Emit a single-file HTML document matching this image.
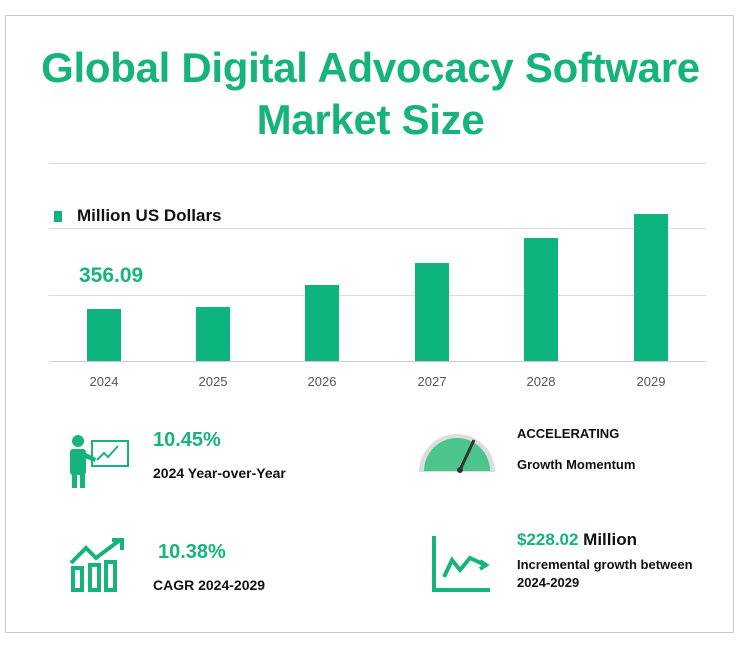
<!DOCTYPE html>
<html><head><meta charset="utf-8"><style>
body{margin:0;width:741px;height:652px;background:#fff;font-family:"Liberation Sans",sans-serif;position:relative;overflow:hidden}
.box{position:absolute;left:5px;top:15px;width:727px;height:616px;border:1px solid #c8c8c8;background:#fff}
.t{position:absolute;white-space:nowrap}
.g{color:#16b47c;font-weight:bold}
.k{color:#111;font-weight:bold}
.bar{position:absolute;width:34px;background:#0db47e}
.hl{position:absolute;left:49px;width:657px;height:1px;background:#ddd}
.yr{position:absolute;top:374px;font-size:13px;color:#555;width:60px;text-align:center}
</style></head><body>
<div class="box"></div>
<div class="t g" style="left:0;width:741px;text-align:center;top:42px;font-size:42px;line-height:52px;letter-spacing:-0.3px">Global Digital Advocacy Software<br>Market Size</div>
<div class="hl" style="top:163px"></div>
<div class="hl" style="top:228px"></div>
<div class="hl" style="top:295px"></div>
<div class="hl" style="top:361px;background:#ccc"></div>
<div style="position:absolute;left:54px;top:211px;width:8px;height:11px;background:#0db47e"></div>
<div class="t k" style="left:77px;top:206px;font-size:17px">Million US Dollars</div>
<div class="t g" style="left:79px;top:264px;font-size:21px">356.09</div>
<div class="bar" style="left:87px;top:309px;height:52px"></div>
<div class="bar" style="left:196px;top:307px;height:54px"></div>
<div class="bar" style="left:305px;top:285px;height:76px"></div>
<div class="bar" style="left:415px;top:263px;height:98px"></div>
<div class="bar" style="left:524px;top:238px;height:123px"></div>
<div class="bar" style="left:634px;top:214px;height:147px"></div>
<div class="yr" style="left:74px">2024</div><div class="yr" style="left:183px">2025</div><div class="yr" style="left:292px">2026</div><div class="yr" style="left:402px">2027</div><div class="yr" style="left:511px">2028</div><div class="yr" style="left:621px">2029</div>
<svg style="position:absolute;left:0;top:0" width="741" height="652">
<g fill="#16b47c"><circle cx="78" cy="441" r="6"/><rect x="70" y="449" width="16" height="26" rx="3"/><rect x="72" y="470" width="5" height="18"/><rect x="80" y="470" width="5" height="18"/><polygon points="84,452 96,458 95,462 84,458"/></g>
<rect x="92" y="441" width="36" height="25" fill="none" stroke="#16b47c" stroke-width="2"/>
<polyline points="97,460 104,453 108,457 118,446" fill="none" stroke="#16b47c" stroke-width="2"/>
<path d="M419,472 A38,38 0 0 1 495,472 Z" fill="#ddd"/><path d="M424,471 A33,33 0 0 1 490,471 Z" fill="#4cc58d"/>
<line x1="460" y1="470" x2="474" y2="440" stroke="#333" stroke-width="3"/><circle cx="460" cy="470" r="3" fill="#333"/>
<g fill="none" stroke="#16b47c" stroke-width="4"><polyline points="71,563 86,548 96,558 120,540"/><polyline points="112,540 122,540 122,550"/><rect x="73" y="568" width="9" height="22"/><rect x="90" y="565" width="9" height="25"/><rect x="106" y="562" width="9" height="28"/>
<polyline points="434,536 434,590 490,590"/><polyline points="444,577 452,560 460,570 470,558 485,565"/><polyline points="480,561 486,565 480,569"/></g>
</svg>
<div class="t g" style="left:153px;top:429px;font-size:20px">10.45%</div>
<div class="t k" style="left:153px;top:465px;font-size:14px">2024 Year-over-Year</div>
<div class="t k" style="left:517px;top:426px;font-size:13px">ACCELERATING</div>
<div class="t k" style="left:517px;top:457px;font-size:13px">Growth Momentum</div>
<div class="t g" style="left:158px;top:541px;font-size:20px">10.38%</div>
<div class="t k" style="left:153px;top:577px;font-size:14px">CAGR 2024-2029</div>
<div class="t k" style="left:517px;top:530px;font-size:17px"><span class="g">$228.02</span> Million</div>
<div class="t k" style="left:517px;top:556px;font-size:13px;line-height:18px">Incremental growth between<br>2024-2029</div>
</body></html>
